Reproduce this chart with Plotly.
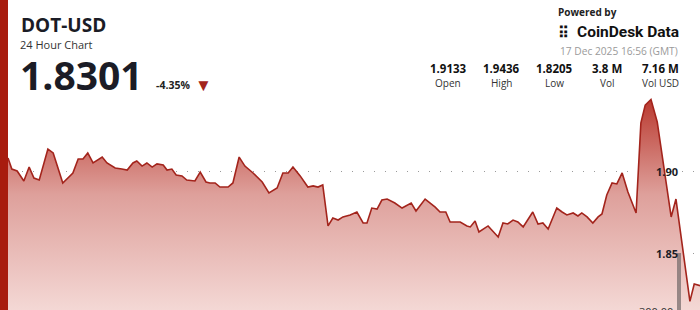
import plotly.graph_objects as go

# ---- data ----
minutes = [0, 8, 19, 33, 44, 54, 65, 83, 94, 114, 135, 146, 156, 166, 177, 196, 206, 223, 237, 248,
           260, 268, 279, 289, 300, 310, 323, 331, 341, 350, 362, 372, 389, 400, 412, 420, 431, 441,
           458, 468, 481, 493, 510, 529, 543, 560, 572, 583, 593, 608, 624, 635, 645, 655, 666, 676,
           687, 697, 712, 726, 739, 747, 757, 768, 778, 789, 805, 820, 839, 849, 868, 889, 899, 911,
           920, 941, 955, 962, 972, 980, 999, 1020, 1030, 1040, 1051, 1061, 1072, 1092, 1103, 1113,
           1124, 1142, 1153, 1163, 1176, 1186, 1194, 1205, 1217, 1228, 1236, 1246, 1257, 1267, 1278,
           1290, 1307, 1317, 1326, 1338, 1351, 1363, 1380, 1390, 1419, 1428, 1440]
prices = [1.9079, 1.9012, 1.9000, 1.8939, 1.9024, 1.8957, 1.8945, 1.9134, 1.9110, 1.8927, 1.8988,
          1.9073, 1.9073, 1.9110, 1.9049, 1.9085, 1.9049, 1.9018, 1.9012, 1.9006, 1.9049, 1.9061,
          1.9030, 1.9049, 1.9024, 1.9043, 1.9037, 1.9006, 1.9012, 1.8976, 1.8970, 1.8945, 1.8939,
          1.8994, 1.8933, 1.8927, 1.8927, 1.8902, 1.8902, 1.8927, 1.9085, 1.9030, 1.8988, 1.8933,
          1.8866, 1.8896, 1.8988, 1.8988, 1.9024, 1.8970, 1.8902, 1.8909, 1.8902, 1.8915, 1.8665,
          1.8713, 1.8701, 1.8720, 1.8732, 1.8750, 1.8683, 1.8683, 1.8774, 1.8768, 1.8823, 1.8829,
          1.8805, 1.8774, 1.8805, 1.8756, 1.8829, 1.8780, 1.8750, 1.8750, 1.8689, 1.8689, 1.8665,
          1.8659, 1.8695, 1.8628, 1.8665, 1.8598, 1.8683, 1.8677, 1.8701, 1.8689, 1.8659, 1.8750,
          1.8677, 1.8683, 1.8646, 1.8774, 1.8750, 1.8732, 1.8744, 1.8726, 1.8744, 1.8720, 1.8683,
          1.8720, 1.8738, 1.8854, 1.8927, 1.8921, 1.8988, 1.8872, 1.8744, 1.9293, 1.9402, 1.9436,
          1.9299, 1.9049, 1.8720, 1.8829, 1.8205, 1.8311, 1.8301]

vol_minutes = [1396]
vol_values = [520]          # thousands
vol_tick = 300

grid_levels = [1.85, 1.90]
grid_labels = ["1.85", "1.90"]

symbol = "DOT-USD"
subtitle = "24 Hour Chart"
last_price = "1.8301"
change = "-4.35%"
date_text = "17 Dec 2025 16:56 (GMT)"
stat_values = ["1.9133", "1.9436", "1.8205", "3.8 M", "7.16 M"]
stat_labels = ["Open", "High", "Low", "Vol", "Vol USD"]

W, H = 700, 310
FONT = "Open Sans"
DARK = "#1b1c26"
RED = "#a3241c"

fig = go.Figure()

fig.add_trace(go.Bar(
    x=vol_minutes, y=vol_values, yaxis="y2", width=8,
    marker=dict(color="rgba(120,110,110,0.75)", line=dict(width=0)),
    hoverinfo="skip", showlegend=False,
))

fig.add_trace(go.Scatter(
    x=minutes, y=prices, mode="lines", fill="tozeroy",
    line=dict(color=RED, width=1.6),
    fillgradient=dict(type="vertical", start=1.815, stop=1.9436,
                      colorscale=[[0, "rgb(244,216,213)"], [0.55, "rgb(222,160,155)"],
                                  [1, "rgb(186,58,48)"]]),
    hoverinfo="skip", showlegend=False,
))

px_per_min = 692 / 1440
x0 = -8 / px_per_min
y_per_px = 0.05 / 82
y_top = 1.90 + 171 * y_per_px
y_bot = 1.90 - (H - 171) * y_per_px

fig.update_layout(
    width=W, height=H, margin=dict(l=0, r=0, t=0, b=0),
    paper_bgcolor="white", plot_bgcolor="white",
    font=dict(family=FONT, color=DARK),
    xaxis=dict(range=[x0, 1440], visible=False, fixedrange=True),
    yaxis=dict(range=[y_bot, y_top], tickvals=grid_levels, showticklabels=False,
               showgrid=True, gridcolor="#9a9a9a", griddash="1px,10px", gridwidth=1,
               zeroline=False, showline=False),
    yaxis2=dict(overlaying="y", range=[300 + 2 * 3.73, 520 + 253 * 3.73], visible=False,
                showgrid=False),
    bargap=0,
)

# grid labels
for lv, lb in zip(grid_levels, grid_labels):
    fig.add_annotation(x=680 / W, xref="paper", y=lv, yref="y", text=f"<b>{lb}</b>",
                       showarrow=False, xanchor="right", yanchor="middle",
                       font=dict(size=11, color=DARK, family=FONT))

# left red band
fig.add_shape(type="rect", xref="paper", yref="paper", x0=0, x1=8 / W, y0=0, y1=1,
              fillcolor="#a81c0e", line=dict(width=0), layer="above")


def ann(text, px, py, size, color=DARK, xanchor="left", bold=False, family=FONT):
    t = f"<b>{text}</b>" if bold else text
    fig.add_annotation(x=px / W, y=1 - py / H, xref="paper", yref="paper", text=t,
                       showarrow=False, xanchor=xanchor, yanchor="middle",
                       font=dict(size=size, color=color, family=family))


# volume axis label, cut off at the bottom edge
ann(f"{vol_tick:.2f}", 675, 311, 11, color="#333", xanchor="right")

ann(symbol, 19, 25, 19, bold=True)
ann(subtitle, 18, 44, 11, color="#333")
ann(last_price, 18, 74, 39, bold=True)
ann(change, 154, 85, 10.5, bold=True, color="#222")
ann("▼", 193, 84, 17, color=RED)

ann("Powered by", 556, 12, 10, bold=True, color="#222")
ann("<b>⠿</b>", 556, 32, 15, color="#111")
ann("CoinDesk Data", 575, 32, 15.5, bold=True, color="#111", family="Roboto")
ann(date_text, 680, 51, 10.2, color="#9a9a9a", xanchor="right")

stat_x = [448, 501, 554, 607, 660]
for sx, v, l in zip(stat_x, stat_values, stat_labels):
    ann(v, sx, 68, 11.5, bold=True, xanchor="center", color="#111")
    ann(l, sx, 83, 10, xanchor="center", color="#333")

fig.write_html("out.html", config={"displayModeBar": False})
